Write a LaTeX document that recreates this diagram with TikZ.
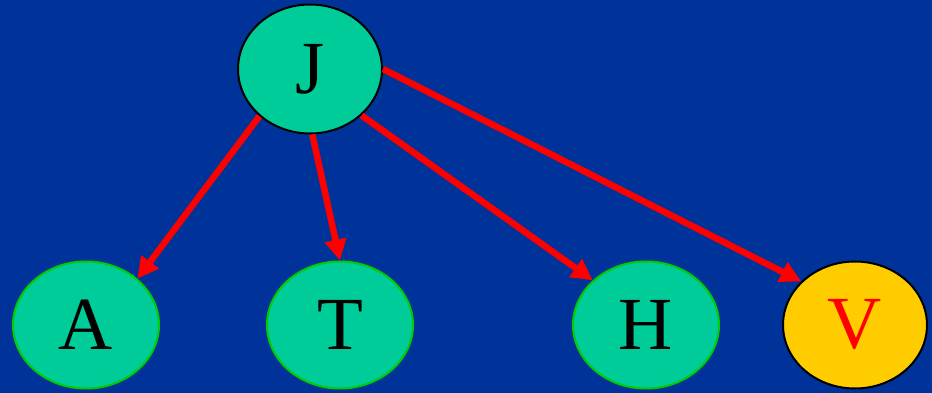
\documentclass[tikz,border=0pt]{standalone}
\usepackage{fontspec}
\setmainfont{Liberation Serif}
\usetikzlibrary{arrows.meta,shapes.geometric}
\definecolor{bgblue}{HTML}{003399}
\definecolor{nodegreen}{HTML}{00CC99}
\definecolor{rimgreen}{HTML}{00CC00}
\definecolor{gold}{HTML}{FFCC00}

\begin{document}
\begin{tikzpicture}[
  x=1pt, y=1pt,
  font=\fontsize{75}{80}\selectfont,
  vert/.style={ellipse, fill=nodegreen, draw=rimgreen, line width=2pt,
               minimum width=146pt, minimum height=127pt, inner sep=0pt},
  arr/.style={-{Triangle[length=21pt,width=21pt]}, red, line width=6.5pt}
]
\fill[bgblue] (0,0) rectangle (932,393);
\useasboundingbox (0,0) rectangle (932,393);
\node[vert, draw=black, minimum width=144pt, minimum height=129pt] (J) at (310,324) {J};
\node[vert] (A) at (86,68) {A};
\node[vert] (T) at (340,68) {T};
\node[vert] (H) at (646,68) {H};
\node[vert, fill=gold, draw=black, text=red, minimum width=144pt] (V) at (855,68) {V};
\draw[arr] (J.223) -- (A.42);
\draw[arr] (J.272) -- (T.90);
\draw[arr] (J.318) -- (H.140);
\draw[arr] (J.0) -- (V.141);
\end{tikzpicture}
\end{document}
